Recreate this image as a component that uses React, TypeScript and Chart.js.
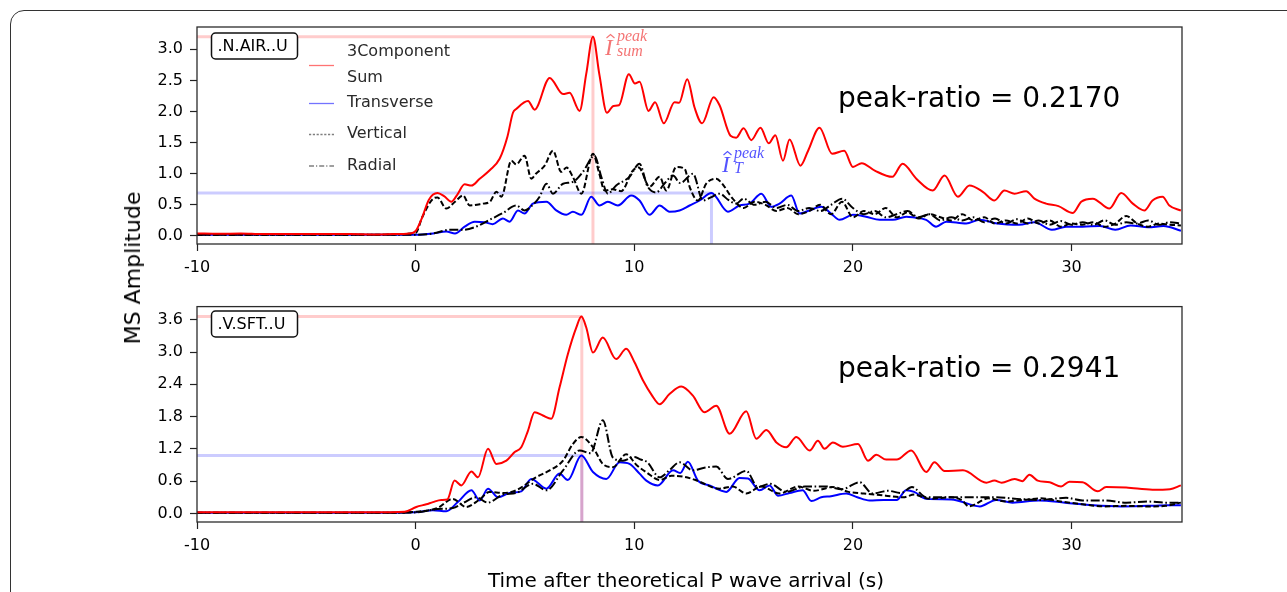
import React, { useEffect, useRef } from "react";
import { Chart, registerables } from "chart.js";
Chart.register(...registerables);

const FONT = "'DejaVu Sans', 'Noto Sans', sans-serif";

// ---------- tick labels ----------
const xTicks = [-10, 0, 10, 20, 30];
const topYTicks = [0, 0.5, 1.0, 1.5, 2.0, 2.5, 3.0];
const botYTicks = [0, 0.6, 1.2, 1.8, 2.4, 3.0, 3.6];

// ---------- top panel (.N.AIR..U) ----------
const topSumT = [-10, -9, -8, -7, -6, -5, -4, -3, -2, -1, -0.3, 0, 0.3, 0.6, 1.0, 1.3, 1.63, 1.9, 2.24, 2.55, 2.93, 3.4, 3.84, 4.2, 4.45, 4.6, 5.14, 5.44, 6.13, 6.74, 7.04, 7.5, 7.8, 8.11, 8.4, 8.75, 9.05, 9.3, 9.75, 10.03, 10.24, 10.65, 10.95, 11.35, 11.84, 12.05, 12.42, 12.76, 13.1, 13.63, 13.9, 14.4, 14.66, 15.0, 15.35, 15.77, 16.15, 16.45, 16.8, 17.1, 17.6, 17.95, 18.47, 19.05, 19.6, 20.0, 20.4, 21.0, 21.8, 22.27, 22.9, 23.65, 24.19, 24.8, 25.33, 25.94, 26.47, 26.93, 27.39, 27.92, 28.3, 28.83, 29.4, 30.06, 30.44, 30.97, 31.73, 32.27, 32.8, 33.33, 33.7, 34.16, 34.47, 35.0];
const topSumV = [0.04, 0.035, 0.04, 0.03, 0.03, 0.03, 0.03, 0.03, 0.025, 0.03, 0.04, 0.08, 0.3, 0.58, 0.69, 0.64, 0.55, 0.66, 0.83, 0.81, 0.92, 1.06, 1.24, 1.6, 1.98, 2.04, 2.17, 2.03, 2.54, 2.28, 2.3, 2.01, 2.6, 3.2, 2.6, 1.98, 2.09, 2.1, 2.6, 2.45, 2.48, 2.01, 2.15, 1.81, 2.15, 2.14, 2.52, 2.06, 1.81, 2.23, 2.1, 1.61, 1.58, 1.73, 1.54, 1.74, 1.49, 1.62, 1.21, 1.55, 1.13, 1.37, 1.74, 1.32, 1.37, 1.11, 1.17, 1.05, 0.95, 1.16, 0.92, 0.73, 0.97, 0.63, 0.81, 0.71, 0.57, 0.73, 0.68, 0.72, 0.6, 0.52, 0.48, 0.37, 0.55, 0.6, 0.44, 0.69, 0.52, 0.41, 0.57, 0.63, 0.49, 0.41];

const topTrT = [-10, -7, -4, -1, 0, 0.8, 1.4, 1.8, 2.24, 2.7, 3.16, 3.53, 3.99, 4.3, 4.68, 4.98, 5.36, 5.98, 6.43, 6.89, 7.19, 7.58, 8.03, 8.41, 8.79, 9.25, 9.86, 10.24, 10.7, 11.16, 11.61, 12.07, 12.53, 12.99, 13.53, 14.28, 14.81, 15.27, 15.81, 16.26, 16.64, 17.18, 17.56, 18.0, 18.55, 19.0, 19.39, 20.0, 20.6, 21.22, 21.83, 22.44, 22.74, 23.35, 23.8, 24.27, 25.18, 25.79, 26.6, 27.6, 28.3, 29.1, 29.75, 30.5, 31.3, 32.0, 32.7, 33.5, 34.2, 35.0];
const topTrV = [0.02, 0.02, 0.02, 0.02, 0.02, 0.04, 0.07, 0.04, 0.15, 0.23, 0.22, 0.19, 0.28, 0.23, 0.41, 0.36, 0.52, 0.55, 0.41, 0.34, 0.39, 0.34, 0.63, 0.49, 0.55, 0.49, 0.65, 0.57, 0.34, 0.49, 0.39, 0.41, 0.49, 0.57, 0.69, 0.39, 0.49, 0.52, 0.68, 0.47, 0.52, 0.65, 0.36, 0.41, 0.47, 0.36, 0.26, 0.34, 0.31, 0.26, 0.26, 0.31, 0.3, 0.26, 0.15, 0.23, 0.2, 0.26, 0.2, 0.18, 0.22, 0.1, 0.15, 0.15, 0.16, 0.1, 0.17, 0.14, 0.16, 0.085];

const topVerT = [-10, -6, -2, 0, 0.3, 0.8, 1.0, 1.4, 1.8, 2.17, 2.47, 3.08, 3.4, 3.69, 3.92, 4.38, 4.6, 4.98, 5.29, 5.5, 5.9, 6.28, 6.66, 6.9, 7.19, 7.58, 8.11, 8.4, 8.64, 9.0, 9.4, 9.93, 10.2, 10.7, 11.16, 11.46, 11.92, 12.3, 12.53, 12.91, 13.29, 13.75, 14.0, 14.5, 15.0, 15.5, 16.0, 16.5, 17.0, 17.5, 18.0, 18.5, 19.0, 19.5, 20.0, 20.5, 21.0, 21.5, 22.0, 22.5, 23.0, 23.5, 24.0, 24.5, 25.0, 25.5, 26.0, 26.5, 27.0, 27.5, 28.0, 28.5, 29.0, 29.5, 30.0, 30.5, 31.0, 31.5, 32.0, 32.5, 33.0, 33.5, 34.0, 34.5, 35.0];
const topVerV = [0.02, 0.02, 0.02, 0.05, 0.3, 0.6, 0.62, 0.44, 0.55, 0.65, 0.49, 0.52, 0.55, 0.71, 0.63, 1.21, 1.15, 1.29, 0.92, 1.0, 1.13, 1.37, 1.03, 1.1, 0.95, 0.68, 1.32, 1.0, 0.73, 0.75, 0.72, 1.05, 1.1, 0.79, 0.95, 0.73, 1.11, 1.08, 0.79, 0.57, 0.84, 0.92, 0.85, 0.6, 0.45, 0.55, 0.5, 0.4, 0.45, 0.35, 0.4, 0.5, 0.35, 0.55, 0.3, 0.4, 0.35, 0.45, 0.3, 0.38, 0.28, 0.35, 0.3, 0.25, 0.35, 0.25, 0.3, 0.2, 0.25, 0.2, 0.28, 0.2, 0.25, 0.15, 0.2, 0.18, 0.22, 0.15, 0.2, 0.32, 0.2, 0.15, 0.2, 0.18, 0.17];

const topRadT = [-10, -6, -2, 0, 0.8, 1.55, 2.17, 2.77, 3.38, 4.0, 4.6, 4.98, 5.36, 5.67, 5.98, 6.28, 6.74, 7.19, 7.65, 8.18, 8.49, 8.79, 9.17, 9.78, 10.24, 10.6, 11.0, 11.4, 11.77, 12.1, 12.68, 13.14, 13.5, 13.9, 14.3, 14.66, 15.0, 15.5, 16.0, 16.5, 17.0, 17.5, 18.0, 18.5, 19.0, 19.5, 20.0, 20.5, 21.0, 21.5, 22.0, 22.5, 23.0, 23.5, 24.0, 24.5, 25.0, 25.5, 26.0, 26.5, 27.0, 27.5, 28.0, 28.5, 29.0, 29.5, 30.0, 30.5, 31.0, 31.5, 32.0, 32.5, 33.0, 33.5, 34.0, 34.5, 35.0];
const topRadV = [0.02, 0.02, 0.02, 0.02, 0.04, 0.1, 0.1, 0.15, 0.26, 0.37, 0.49, 0.41, 0.5, 0.63, 0.84, 0.68, 0.84, 0.87, 1.03, 1.29, 0.95, 0.68, 0.81, 0.95, 1.16, 0.8, 0.7, 0.85, 0.97, 0.85, 1.0, 0.57, 0.62, 0.68, 0.58, 0.52, 0.6, 0.5, 0.55, 0.45, 0.5, 0.4, 0.45, 0.4, 0.5, 0.6, 0.45, 0.35, 0.4, 0.3, 0.35, 0.4, 0.3, 0.35, 0.25, 0.3, 0.25, 0.3, 0.22, 0.28, 0.2, 0.27, 0.2, 0.25, 0.18, 0.24, 0.18, 0.22, 0.18, 0.25, 0.18, 0.22, 0.2, 0.25, 0.18, 0.22, 0.2];

// ---------- bottom panel (.V.SFT..U) ----------
const botSumT = [-10, -8, -6, -4, -2, -0.5, 0.03, 0.49, 0.79, 1.17, 1.45, 1.78, 2.09, 2.55, 2.85, 3.31, 3.69, 4.15, 4.53, 4.83, 5.14, 5.44, 5.82, 6.2, 6.58, 6.96, 7.35, 7.58, 7.8, 8.11, 8.56, 9.17, 9.63, 10.01, 10.4, 10.8, 11.16, 11.61, 12.15, 12.68, 13.21, 13.75, 14.36, 15.12, 15.58, 16.04, 16.5, 16.95, 17.41, 18.02, 18.4, 18.7, 19.08, 19.54, 20.23, 20.69, 21.07, 21.52, 22.0, 22.67, 23.35, 23.73, 24.19, 25.03, 26.1, 26.47, 26.8, 27.39, 27.75, 28.07, 28.45, 29.0, 29.52, 29.9, 30.5, 31.2, 31.58, 32.5, 33.7, 34.5, 35.0];
const botSumV = [0.02, 0.02, 0.02, 0.02, 0.02, 0.03, 0.12, 0.17, 0.21, 0.25, 0.26, 0.61, 0.52, 0.78, 0.67, 1.2, 0.92, 0.98, 1.14, 1.23, 1.54, 1.88, 1.82, 1.76, 2.34, 2.96, 3.46, 3.66, 3.46, 2.99, 3.27, 2.87, 3.06, 2.81, 2.47, 2.2, 2.03, 2.22, 2.36, 2.19, 1.88, 2.0, 1.48, 1.9, 1.39, 1.55, 1.32, 1.23, 1.42, 1.17, 1.35, 1.2, 1.32, 1.24, 1.29, 0.98, 1.09, 1.0, 1.0, 1.17, 0.77, 0.95, 0.79, 0.8, 0.57, 0.61, 0.57, 0.64, 0.6, 0.72, 0.61, 0.58, 0.5, 0.59, 0.58, 0.41, 0.49, 0.48, 0.44, 0.45, 0.52];

const botTrT = [-10, -6, -2, 0, 0.79, 1.4, 1.93, 2.55, 2.93, 3.31, 3.77, 4.3, 4.83, 5.29, 5.98, 6.58, 6.96, 7.58, 8.11, 8.72, 9.33, 9.78, 10.24, 10.55, 11.08, 11.77, 12.1, 12.45, 12.91, 13.44, 14.21, 14.81, 15.2, 15.73, 16.19, 16.57, 17.1, 17.7, 18.1, 18.55, 19.0, 19.69, 20.2, 20.76, 21.4, 22.0, 22.44, 22.8, 23.35, 24.5, 25.8, 26.55, 27.3, 28.5, 29.7, 31.0, 32.3, 33.5, 34.4, 35.0];
const botTrV = [0.01, 0.01, 0.01, 0.02, 0.06, 0.04, 0.21, 0.43, 0.24, 0.46, 0.3, 0.38, 0.41, 0.64, 0.46, 0.74, 0.62, 1.076, 0.77, 0.64, 0.95, 0.92, 0.74, 0.61, 0.52, 0.8, 0.75, 0.96, 0.61, 0.52, 0.4, 0.66, 0.65, 0.43, 0.52, 0.33, 0.38, 0.43, 0.23, 0.3, 0.32, 0.37, 0.3, 0.24, 0.25, 0.25, 0.43, 0.4, 0.27, 0.26, 0.13, 0.25, 0.2, 0.24, 0.2, 0.15, 0.13, 0.14, 0.15, 0.15];

const botVerT = [-10, -6, -2, 0, 1.0, 1.7, 2.3, 2.9, 3.38, 4.0, 4.6, 5.5, 6.13, 6.74, 7.19, 7.58, 8.11, 8.56, 9.02, 9.63, 10.1, 10.6, 11.16, 11.7, 12.3, 12.8, 13.9, 14.5, 15.12, 15.8, 16.64, 17.5, 18.2, 19.08, 19.8, 20.5, 21.5, 22.3, 22.8, 23.5, 24.5, 25.0, 25.3, 26.2, 27.0, 28.0, 28.6, 29.5, 30.5, 31.5, 32.5, 33.5, 34.3, 35.0];
const botVerV = [0.01, 0.01, 0.01, 0.03, 0.1, 0.27, 0.12, 0.25, 0.4, 0.38, 0.43, 0.67, 0.8, 0.98, 1.29, 1.42, 1.23, 0.92, 0.86, 1.1, 0.9, 0.75, 0.62, 0.7, 0.68, 0.62, 0.46, 0.5, 0.37, 0.5, 0.37, 0.5, 0.42, 0.49, 0.4, 0.37, 0.33, 0.3, 0.35, 0.27, 0.3, 0.24, 0.13, 0.28, 0.22, 0.26, 0.28, 0.22, 0.17, 0.13, 0.14, 0.13, 0.14, 0.2];

const botRadT = [-10, -6, -2, 0, 1.0, 1.7, 2.2, 2.77, 3.3, 4.0, 4.6, 5.36, 5.98, 6.74, 7.5, 8.0, 8.56, 9.02, 9.48, 10.0, 10.24, 10.6, 11.16, 11.6, 12.07, 12.68, 13.2, 13.75, 14.28, 15.12, 15.65, 16.2, 16.95, 17.8, 18.78, 19.5, 20.3, 20.9, 21.6, 22.2, 22.7, 23.35, 24.3, 25.3, 26.5, 27.5, 28.5, 29.75, 30.5, 31.5, 32.5, 33.5, 34.3, 35.0];
const botRadV = [0.01, 0.01, 0.01, 0.02, 0.08, 0.1, 0.2, 0.3, 0.2, 0.35, 0.38, 0.55, 0.43, 0.8, 1.17, 1.12, 1.73, 1.04, 0.98, 1.05, 1.01, 0.95, 0.67, 0.8, 0.95, 0.8, 0.85, 0.87, 0.64, 0.79, 0.49, 0.55, 0.4, 0.5, 0.5, 0.45, 0.58, 0.37, 0.42, 0.38, 0.49, 0.3, 0.3, 0.3, 0.3, 0.27, 0.25, 0.29, 0.24, 0.24, 0.2, 0.22, 0.2, 0.2];

// peak markers: [time, value]
const topSumPeak = [8.11, 3.2];
const topTrPeak = [13.53, 0.69];
const botSumPeak = [7.6, 3.66];
const botTrPeak = [7.6, 1.076];

const X_MIN = -10;
const X_MAX = 35.05;

function pts(t: number[], v: number[]) {
  return t.map((x, i) => ({ x, y: v[i] }));
}

function peakLine(p: number[], yMin: number) {
  return [
    { x: X_MIN, y: p[1] },
    { x: p[0], y: p[1] },
    { x: p[0], y: yMin },
  ];
}

type PanelProps = {
  top: number;
  height: number;
  padTop: number;
  xAxisH: number;
  yMin: number;
  yMax: number;
  yTicks: number[];
  series: { t: number[]; v: number[] }[];
  sumPeak: number[];
  trPeak: number[];
  station: string;
  ratio: string;
  ratioY: number;
  isTop: boolean;
};

function Panel(p: PanelProps) {
  const ref = useRef<HTMLCanvasElement | null>(null);
  useEffect(() => {
    const canvas = ref.current;
    if (!canvas) return;
    const [sum, tr, ver, rad] = p.series;
    const lw = 2;
    const decor = {
      id: "decor" + (p.isTop ? "T" : "B"),
      afterDraw(chart: any) {
        const ctx = chart.ctx as CanvasRenderingContext2D;
        const a = chart.chartArea;
        ctx.save();
        // spines
        ctx.strokeStyle = "#2b2b2b";
        ctx.lineWidth = 1.3;
        ctx.strokeRect(a.left, a.top, a.right - a.left, a.bottom - a.top);
        // station box
        const bx = 211.5, by = p.isTop ? 33 : 21, bw = 86, bh = 26;
        ctx.beginPath();
        (ctx as any).roundRect(bx, by, bw, bh, 4);
        ctx.fillStyle = "#fff";
        ctx.fill();
        ctx.lineWidth = 1.5;
        ctx.strokeStyle = "#111";
        ctx.stroke();
        ctx.fillStyle = "#000";
        ctx.font = `16px ${FONT}`;
        ctx.textBaseline = "middle";
        ctx.textAlign = "left";
        ctx.fillText(p.station, bx + 6, by + bh / 2 + 0.5);
        // ratio text
        ctx.font = `28px ${FONT}`;
        ctx.textBaseline = "alphabetic";
        ctx.fillStyle = "#000";
        ctx.fillText(p.ratio, 838, p.ratioY);
        if (p.isTop) {
          // legend
          ctx.font = `16px ${FONT}`;
          ctx.fillStyle = "#2a2a2a";
          ctx.textBaseline = "middle";
          ctx.fillText("3Component", 347, 52);
          ctx.fillText("Sum", 347, 78);
          ctx.fillText("Transverse", 347, 103);
          ctx.fillText("Vertical", 347, 134);
          ctx.fillText("Radial", 347, 166);
          const handle = (y: number, color: string, dash: number[]) => {
            ctx.beginPath();
            ctx.setLineDash(dash);
            ctx.strokeStyle = color;
            ctx.lineWidth = 1.3;
            ctx.moveTo(309, y);
            ctx.lineTo(334, y);
            ctx.stroke();
          };
          handle(65.5, "rgba(255,0,0,0.55)", []);
          handle(103.5, "rgba(0,0,255,0.55)", []);
          handle(134.5, "rgba(0,0,0,0.5)", [2.2, 1.6]);
          handle(166, "rgba(0,0,0,0.5)", [5, 2, 1.2, 2]);
          ctx.setLineDash([]);
          // peak labels
          const lab = (x: number, y: number, color: string, sub: string) => {
            ctx.fillStyle = color;
            ctx.textBaseline = "alphabetic";
            ctx.font = `italic 23px 'Liberation Serif', serif`;
            ctx.fillText("I", x, y);
            // hat
            ctx.strokeStyle = color;
            ctx.lineWidth = 1.1;
            ctx.beginPath();
            ctx.moveTo(x + 1.5, y - 17);
            ctx.lineTo(x + 5.5, y - 20.5);
            ctx.lineTo(x + 9.5, y - 17);
            ctx.stroke();
            ctx.font = `italic 16px 'Liberation Serif', serif`;
            ctx.fillText("peak", x + 12, y - 14);
            ctx.fillText(sub, x + 12, y + 1);
          };
          lab(605, 55, "rgba(240,70,70,0.75)", "sum");
          lab(722, 172, "rgba(40,40,255,0.8)", "T");
        }
        ctx.restore();
      },
    };

    const chart = new Chart(canvas, {
      type: "line",
      data: {
        datasets: [
          { data: pts(sum.t, sum.v), borderColor: "#ff0000", borderWidth: lw },
          { data: pts(rad.t, rad.v), borderColor: "#000", borderWidth: lw, borderDash: [9, 2.6, 1.6, 2.6] },
          { data: pts(ver.t, ver.v), borderColor: "#000", borderWidth: lw, borderDash: [5.5, 2.6] },
          { data: pts(tr.t, tr.v), borderColor: "#0000ff", borderWidth: lw },
          { data: peakLine(p.sumPeak, p.yMin), borderColor: "rgba(255,0,0,0.2)", borderWidth: 3, cubicInterpolationMode: "default", tension: 0 },
          { data: peakLine(p.trPeak, p.yMin), borderColor: "rgba(0,0,255,0.2)", borderWidth: 3, cubicInterpolationMode: "default", tension: 0 },
        ] as any,
      },
      options: {
        animation: false,
        responsive: false,
        maintainAspectRatio: false,
        parsing: false,
        elements: {
          point: { radius: 0 },
          line: { cubicInterpolationMode: "monotone", fill: false, borderCapStyle: "butt", borderJoinStyle: "round" },
        },
        layout: { padding: { left: 0, right: 105, top: p.padTop, bottom: 0 } },
        plugins: { legend: { display: false }, tooltip: { enabled: false } },
        scales: {
          x: {
            type: "linear",
            min: X_MIN,
            max: X_MAX,
            afterBuildTicks: (s: any) => {
              s.ticks = xTicks.map((v) => ({ value: v }));
            },
            afterFit: (s: any) => {
              s.height = p.xAxisH;
            },
            grid: { display: true, drawOnChartArea: false, drawTicks: true, tickLength: 7, tickWidth: 1.2, tickColor: "#222", color: "#222" },
            border: { display: false },
            ticks: {
              font: { family: FONT, size: 16 },
              color: "#000",
              padding: 7,
              maxRotation: 0,
              autoSkip: false,
              callback: (v: any) => String(v),
            },
          },
          y: {
            type: "linear",
            min: p.yMin,
            max: p.yMax,
            afterBuildTicks: (s: any) => {
              s.ticks = p.yTicks.map((v) => ({ value: v }));
            },
            afterFit: (s: any) => {
              s.width = 197;
            },
            grid: { display: true, drawOnChartArea: false, drawTicks: true, tickLength: 7, tickWidth: 1.2, tickColor: "#222", color: "#222" },
            border: { display: false },
            ticks: {
              font: { family: FONT, size: 16 },
              color: "#000",
              padding: 7,
              autoSkip: false,
              callback: (v: any) => Number(v).toFixed(1),
            },
          },
        },
      } as any,
      plugins: [decor],
    });
    return () => chart.destroy();
  }, []);
  return (
    <canvas
      ref={ref}
      width={1287}
      height={p.height}
      style={{ position: "absolute", left: 0, top: p.top, width: 1287, height: p.height }}
    />
  );
}

export default function App() {
  return (
    <div
      style={{
        position: "absolute",
        left: 0,
        top: 0,
        width: 1287,
        height: 592,
        overflow: "hidden",
        background: "#fff",
        fontFamily: FONT,
      }}
    >
      <div
        style={{
          position: "absolute",
          left: 10,
          top: 10,
          width: 1400,
          height: 800,
          border: "1.5px solid #333",
          borderRadius: 14,
          boxSizing: "border-box",
        }}
      />
      <Panel
        top={0}
        height={290}
        padTop={27}
        xAxisH={46}
        yMin={-0.129}
        yMax={3.358}
        yTicks={topYTicks}
        series={[
          { t: topSumT, v: topSumV },
          { t: topTrT, v: topTrV },
          { t: topVerT, v: topVerV },
          { t: topRadT, v: topRadV },
        ]}
        sumPeak={topSumPeak}
        trPeak={topTrPeak}
        station=".N.AIR..U"
        ratio="peak-ratio = 0.2170"
        ratioY={106.7}
        isTop={true}
      />
      <Panel
        top={290}
        height={302}
        padTop={15}
        xAxisH={70}
        yMin={-0.16}
        yMax={3.845}
        yTicks={botYTicks}
        series={[
          { t: botSumT, v: botSumV },
          { t: botTrT, v: botTrV },
          { t: botVerT, v: botVerV },
          { t: botRadT, v: botRadV },
        ]}
        sumPeak={botSumPeak}
        trPeak={botTrPeak}
        station=".V.SFT..U"
        ratio="peak-ratio = 0.2941"
        ratioY={87.3}
        isTop={false}
      />
      <div
        style={{
          position: "absolute",
          left: 133,
          top: 268,
          transform: "translate(-50%, -50%) rotate(-90deg)",
          fontSize: 22,
          whiteSpace: "nowrap",
          color: "#000",
          lineHeight: 1,
        }}
      >
        MS Amplitude
      </div>
      <div
        style={{
          position: "absolute",
          left: 686,
          top: 580,
          transform: "translate(-50%, -50%)",
          fontSize: 20,
          whiteSpace: "nowrap",
          color: "#000",
          lineHeight: 1,
        }}
      >
        Time after theoretical P wave arrival (s)
      </div>
    </div>
  );
}
